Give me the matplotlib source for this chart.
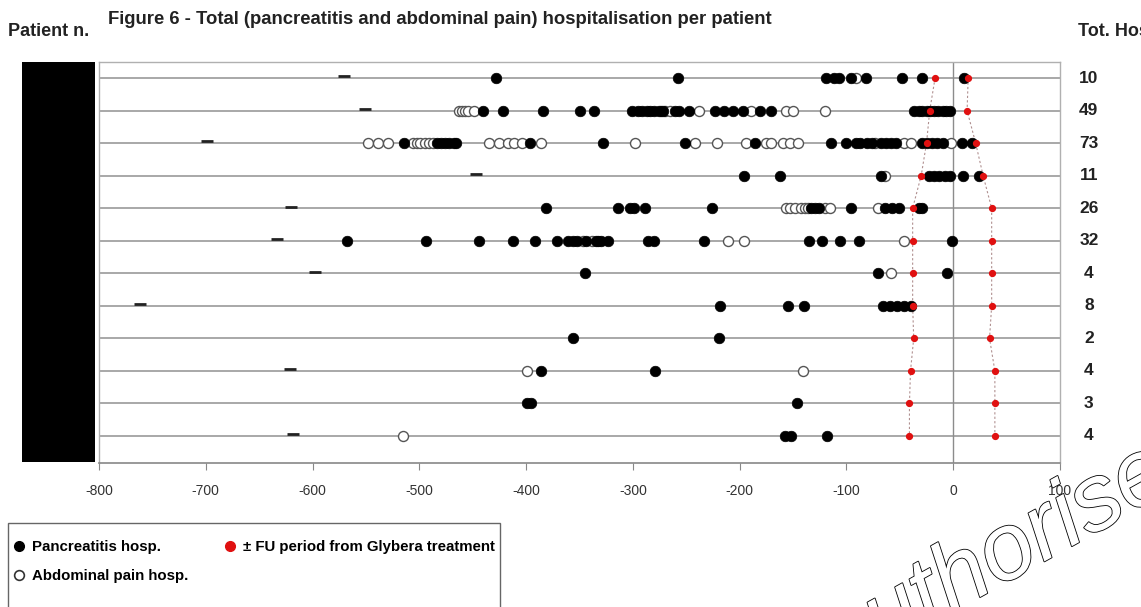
import matplotlib
matplotlib.use('Agg')
import matplotlib.pyplot as plt
import matplotlib.patheffects as pe
from matplotlib.patches import Rectangle
from matplotlib.lines import Line2D

plt.rcParams['font.family'] = ['Liberation Sans', 'DejaVu Sans']
plt.rcParams['axes.unicode_minus'] = False

# days relative to Glybera treatment, one list per patient (top to bottom)
tot_hosp = [10, 49, 73, 11, 26, 32, 4, 8, 2, 4, 3, 4]

pancreatitis = [
    [-428, -258, -119, -112, -107, -96, -82, -48, -29, 10],
    [-440, -422, -384, -350, -336, -301, -295, -291, -287, -284, -280, -276, -272, -261, -257, -247,
     -223, -215, -206, -197, -181, -171, -37, -32, -29, -25, -22, -18, -14, -10, -7, -3],
    [-514, -483, -480, -476, -472, -468, -466, -396, -328, -251, -186, -114, -100, -91, -87, -81,
     -76, -68, -63, -58, -54, -29, -25, -20, -15, -10, 8, 18],
    [-196, -162, -68, -23, -18, -13, -8, -3, 9, 24],
    [-381, -314, -303, -299, -289, -226, -133, -129, -126, -96, -64, -57, -51, -32, -29],
    [-568, -494, -444, -412, -392, -371, -361, -356, -352, -344, -335, -333, -330, -323, -286, -280,
     -233, -135, -123, -106, -88, -1],
    [-345, -70, -6],
    [-218, -155, -140, -66, -59, -53, -46, -40],
    [-356, -219],
    [-386, -279],
    [-399, -395, -146],
    [-158, -152, -118],
]

abdominal = [
    [-91],
    [-463, -460, -457, -454, -449, -274, -270, -265, -238, -189, -157, -150, -120],
    [-548, -539, -529, -506, -502, -499, -495, -491, -487, -435, -425, -417, -411, -404, -386,
     -298, -242, -221, -194, -175, -171, -159, -153, -145, -73, -46, -40, -2],
    [-64],
    [-157, -153, -148, -143, -139, -136, -120, -115, -70],
    [-347, -338, -211, -196, -46],
    [-58],
    [],
    [],
    [-399, -141],
    [],
    [-515],
]

fu_start = [-17, -22, -25, -30, -38, -38, -38, -38, -37, -40, -41, -41]
fu_end = [14, 13, 21, 28, 36, 36, 36, 36, 34, 39, 39, 39]

# first-contact dash on the left (None where absent)
first_mark = [-571, -551, -699, -447, -620, -633, -598, -762, None, -621, None, -618]

xticks = list(range(-800, 101, 100))

W, H = 1141, 607
fig = plt.figure(figsize=(W / 100, H / 100), dpi=100)
ax = fig.add_axes([99 / W, 1 - 463 / H, (1060 - 99) / W, (463 - 62) / H])

rows = list(range(len(tot_hosp)))
for i in rows:
    ax.axhline(i, color='#a8a8a8', lw=1.4, zorder=1)
ax.axvline(0, color='#8c8c8c', lw=1.0, zorder=1)

ax.plot(fu_start, rows, ls=(0, (2, 2)), color='#b09090', lw=0.8, zorder=2)
ax.plot(fu_end, rows, ls=(0, (2, 2)), color='#b09090', lw=0.8, zorder=2)

for i in rows:
    if first_mark[i] is not None:
        ax.plot([first_mark[i]], [i - 0.05], marker='_', ms=9, mew=2, color='#222', zorder=3)
    ab = abdominal[i]
    if ab:
        ax.plot(ab, [i] * len(ab), 'o', ms=7.2, mfc='white', mec='#555', mew=1.0, ls='none', zorder=3)
    pa = pancreatitis[i]
    ax.plot(pa, [i] * len(pa), 'o', ms=7.6, mfc='black', mec='black', mew=0.5, ls='none', zorder=4)
    ax.plot([fu_start[i], fu_end[i]], [i, i], 'o', ms=4.2, color='#e01010', ls='none', zorder=5)
    ax.text(1.03, i, str(tot_hosp[i]), transform=ax.get_yaxis_transform(), ha='center', va='center',
            fontsize=12.5, fontweight='bold', color='#222')

ax.set_xlim(-800, 100)
ax.set_ylim(11 + 27 / 32.5, -16 / 32.5)
ax.set_yticks([])
ax.set_xticks(xticks)
ax.set_xticklabels([str(t) for t in xticks])
ax.tick_params(axis='x', length=5, color='#888', pad=10, labelsize=10, labelcolor='#333')
for s in ['top', 'right', 'left']:
    ax.spines[s].set_color('#b0b0b0')
    ax.spines[s].set_linewidth(1.0)
ax.spines['bottom'].set_color('#888')
ax.spines['bottom'].set_linewidth(1.2)

# redacted patient ids
fig.patches.append(Rectangle((22 / W, 1 - 462 / H), 73 / W, 400 / H, transform=fig.transFigure,
                             facecolor='black', edgecolor='none'))

fig.text(108 / W, 1 - 19 / H, 'Figure 6 - Total (pancreatitis and abdominal pain) hospitalisation per patient',
         fontsize=13.3, fontweight='bold', va='center', color='#222')
fig.text(8 / W, 1 - 31 / H, 'Patient n.', fontsize=13, fontweight='bold', va='center', color='#222')
fig.text(1078 / W, 1 - 31 / H, 'Tot. Hosp.', fontsize=13, fontweight='bold', va='center', color='#222')

# legend box
fig.patches.append(Rectangle((8 / W, -5 / H), 492 / W, (607 - 523 + 5) / H, transform=fig.transFigure,
                             fill=False, edgecolor='#666', lw=1.0))
handles = [
    Line2D([], [], marker='o', ls='none', ms=7, mfc='black', mec='black'),
    Line2D([], [], marker='o', ls='none', ms=7, mfc='white', mec='#333', mew=1.2),
    Line2D([], [], marker='o', ls='none', ms=7, mfc='#e01010', mec='#e01010'),
]
labels = ['Pancreatitis hosp.', 'Abdominal pain hosp.', '\u00b1 FU period from Glybera treatment']
fig.legend(handles, labels, ncol=2, loc='upper left', bbox_to_anchor=(12 / W, 1 - 540 / H),
           frameon=False, prop={'size': 10.8, 'weight': 'bold'}, handlelength=0.9, handletextpad=0.45,
           labelspacing=1.0, columnspacing=2.3, borderaxespad=0, borderpad=0)

# watermark
fig.text(1222 / W, 1 - 463 / H, 'Medicinal product no longer authorised', fontsize=68, style='italic',
         color='white', rotation=29, rotation_mode='anchor', ha='right', va='baseline', zorder=10,
         path_effects=[pe.Stroke(linewidth=1.2, foreground='black'), pe.Normal()])

fig.savefig('out.png', dpi=100)
